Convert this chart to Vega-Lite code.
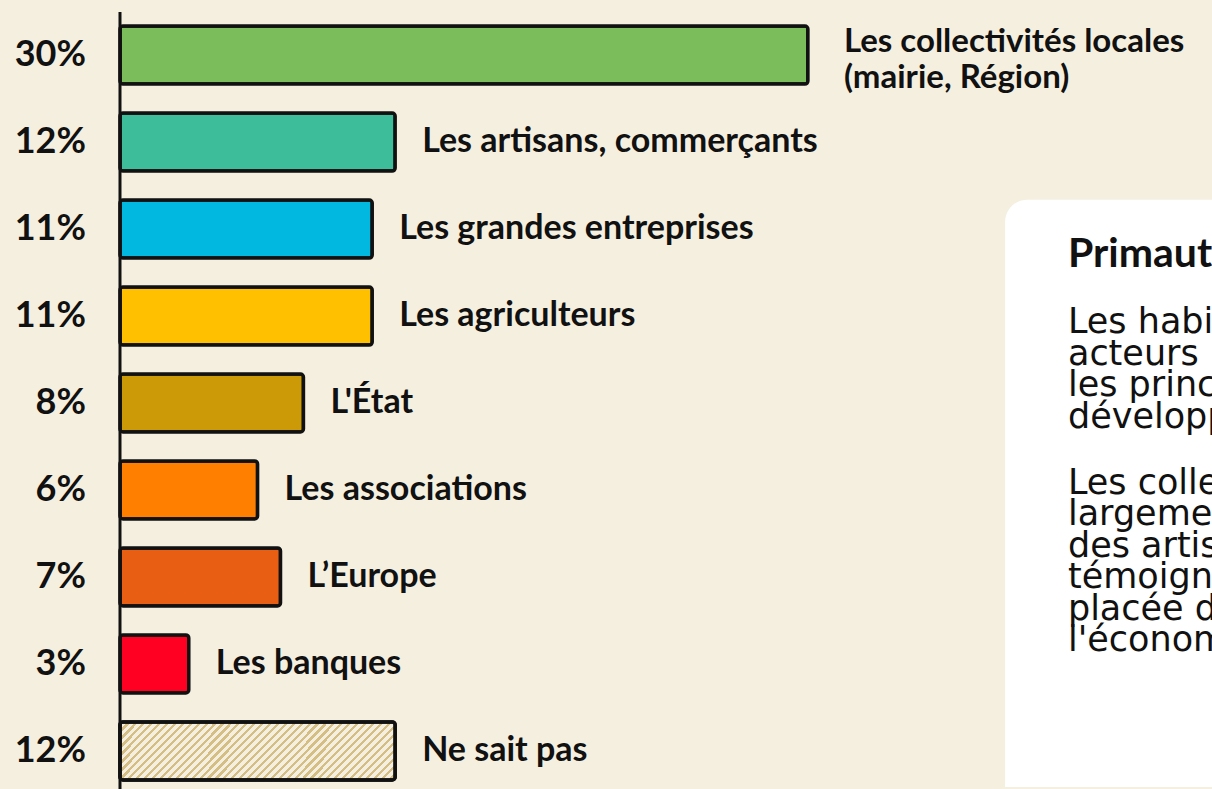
{
"$schema": "https://vega.github.io/schema/vega-lite/v6.json",
"width": 1212, "height": 789,
"autosize": {"type": "fit", "contains": "padding"},
"padding": 0,
"background": "#F5EFE0",
"config": {"view": {"stroke": null}},
"data": {"values": [
 {"cat": "Les collectivités locales\n(mairie, Région)", "value": 0.30},
 {"cat": "Les artisans, commerçants", "value": 0.12},
 {"cat": "Les grandes entreprises", "value": 0.11},
 {"cat": "Les agriculteurs", "value": 0.11},
 {"cat": "L'État", "value": 0.08},
 {"cat": "Les associations", "value": 0.06},
 {"cat": "L’Europe", "value": 0.07},
 {"cat": "Les banques", "value": 0.03},
 {"cat": "Ne sait pas", "value": 0.12}
]},
"layer": [
 {
  "data": {"values": [{}]},
  "mark": {"type": "rect", "fill": "#FFFFFF", "cornerRadius": 22, "clip": true, "height": {"band": 16}},
  "encoding": {
   "x": {"datum": 0.386, "type": "quantitative", "scale": {"domain": [-0.05233, 0.47623], "nice": false, "zero": false}, "axis": null},
   "x2": {"datum": 0.6},
   "y": {"datum": "Les banques", "type": "nominal", "axis": null, "scale": {"domain": ["Les collectivités locales\n(mairie, Région)", "Les artisans, commerçants", "Les grandes entreprises", "Les agriculteurs", "L'État", "Les associations", "L’Europe", "Les banques", "Ne sait pas"], "range": [11.5, 794.5], "paddingInner": 0.333, "paddingOuter": 0.1667}}
  }
 },
 {
  "mark": {"type": "bar", "stroke": "#111111", "strokeWidth": 3.5, "cornerRadius": 3},
  "encoding": {
   "x": {"field": "value", "type": "quantitative", "scale": {"domain": [-0.05233, 0.47623], "nice": false, "zero": false}, "axis": null},
   "y": {"field": "cat", "type": "nominal", "axis": null, "sort": null, "scale": {"domain": ["Les collectivités locales\n(mairie, Région)", "Les artisans, commerçants", "Les grandes entreprises", "Les agriculteurs", "L'État", "Les associations", "L’Europe", "Les banques", "Ne sait pas"], "range": [11.5, 794.5], "paddingInner": 0.333, "paddingOuter": 0.1667}},
   "fill": {"field": "cat", "type": "nominal", "legend": null, "scale": {"domain": ["Les collectivités locales\n(mairie, Région)", "Les artisans, commerçants", "Les grandes entreprises", "Les agriculteurs", "L'État", "Les associations", "L’Europe", "Les banques", "Ne sait pas"], "range": ["#7BBD5A", "#3DBD9A", "#00B8E0", "#FFC000", "#CC9A06", "#FF7F00", "#E85E12", "#FF0022", "#F5EFE0"]}}
  }
 },
 {
  "transform": [{"filter": "datum.cat === 'Ne sait pas'"}],
  "mark": {"type": "bar", "stroke": "#111111", "strokeWidth": 3.5, "cornerRadius": 3,
   "fill": {"gradient": "linear", "x1": 0, "y1": 0, "x2": 1.158, "y2": 0.242, "stops": [
    {"offset": 0, "color": "#D4BE84"}, {"offset": 0.0095, "color": "#D4BE84"}, {"offset": 0.0095, "color": "#F5EFE0"}, {"offset": 0.0238, "color": "#F5EFE0"},
    {"offset": 0.0238, "color": "#D4BE84"}, {"offset": 0.0333, "color": "#D4BE84"}, {"offset": 0.0333, "color": "#F5EFE0"}, {"offset": 0.0476, "color": "#F5EFE0"},
    {"offset": 0.0476, "color": "#D4BE84"}, {"offset": 0.0571, "color": "#D4BE84"}, {"offset": 0.0571, "color": "#F5EFE0"}, {"offset": 0.0714, "color": "#F5EFE0"},
    {"offset": 0.0714, "color": "#D4BE84"}, {"offset": 0.0809, "color": "#D4BE84"}, {"offset": 0.0809, "color": "#F5EFE0"}, {"offset": 0.0952, "color": "#F5EFE0"},
    {"offset": 0.0952, "color": "#D4BE84"}, {"offset": 0.1047, "color": "#D4BE84"}, {"offset": 0.1047, "color": "#F5EFE0"}, {"offset": 0.1190, "color": "#F5EFE0"},
    {"offset": 0.1190, "color": "#D4BE84"}, {"offset": 0.1285, "color": "#D4BE84"}, {"offset": 0.1285, "color": "#F5EFE0"}, {"offset": 0.1429, "color": "#F5EFE0"},
    {"offset": 0.1429, "color": "#D4BE84"}, {"offset": 0.1524, "color": "#D4BE84"}, {"offset": 0.1524, "color": "#F5EFE0"}, {"offset": 0.1667, "color": "#F5EFE0"},
    {"offset": 0.1667, "color": "#D4BE84"}, {"offset": 0.1762, "color": "#D4BE84"}, {"offset": 0.1762, "color": "#F5EFE0"}, {"offset": 0.1905, "color": "#F5EFE0"},
    {"offset": 0.1905, "color": "#D4BE84"}, {"offset": 0.2000, "color": "#D4BE84"}, {"offset": 0.2000, "color": "#F5EFE0"}, {"offset": 0.2143, "color": "#F5EFE0"},
    {"offset": 0.2143, "color": "#D4BE84"}, {"offset": 0.2238, "color": "#D4BE84"}, {"offset": 0.2238, "color": "#F5EFE0"}, {"offset": 0.2381, "color": "#F5EFE0"},
    {"offset": 0.2381, "color": "#D4BE84"}, {"offset": 0.2476, "color": "#D4BE84"}, {"offset": 0.2476, "color": "#F5EFE0"}, {"offset": 0.2619, "color": "#F5EFE0"},
    {"offset": 0.2619, "color": "#D4BE84"}, {"offset": 0.2714, "color": "#D4BE84"}, {"offset": 0.2714, "color": "#F5EFE0"}, {"offset": 0.2857, "color": "#F5EFE0"},
    {"offset": 0.2857, "color": "#D4BE84"}, {"offset": 0.2952, "color": "#D4BE84"}, {"offset": 0.2952, "color": "#F5EFE0"}, {"offset": 0.3095, "color": "#F5EFE0"},
    {"offset": 0.3095, "color": "#D4BE84"}, {"offset": 0.3190, "color": "#D4BE84"}, {"offset": 0.3190, "color": "#F5EFE0"}, {"offset": 0.3333, "color": "#F5EFE0"},
    {"offset": 0.3333, "color": "#D4BE84"}, {"offset": 0.3428, "color": "#D4BE84"}, {"offset": 0.3428, "color": "#F5EFE0"}, {"offset": 0.3571, "color": "#F5EFE0"},
    {"offset": 0.3571, "color": "#D4BE84"}, {"offset": 0.3666, "color": "#D4BE84"}, {"offset": 0.3666, "color": "#F5EFE0"}, {"offset": 0.3810, "color": "#F5EFE0"},
    {"offset": 0.3810, "color": "#D4BE84"}, {"offset": 0.3905, "color": "#D4BE84"}, {"offset": 0.3905, "color": "#F5EFE0"}, {"offset": 0.4048, "color": "#F5EFE0"},
    {"offset": 0.4048, "color": "#D4BE84"}, {"offset": 0.4143, "color": "#D4BE84"}, {"offset": 0.4143, "color": "#F5EFE0"}, {"offset": 0.4286, "color": "#F5EFE0"},
    {"offset": 0.4286, "color": "#D4BE84"}, {"offset": 0.4381, "color": "#D4BE84"}, {"offset": 0.4381, "color": "#F5EFE0"}, {"offset": 0.4524, "color": "#F5EFE0"},
    {"offset": 0.4524, "color": "#D4BE84"}, {"offset": 0.4619, "color": "#D4BE84"}, {"offset": 0.4619, "color": "#F5EFE0"}, {"offset": 0.4762, "color": "#F5EFE0"},
    {"offset": 0.4762, "color": "#D4BE84"}, {"offset": 0.4857, "color": "#D4BE84"}, {"offset": 0.4857, "color": "#F5EFE0"}, {"offset": 0.5000, "color": "#F5EFE0"},
    {"offset": 0.5000, "color": "#D4BE84"}, {"offset": 0.5095, "color": "#D4BE84"}, {"offset": 0.5095, "color": "#F5EFE0"}, {"offset": 0.5238, "color": "#F5EFE0"},
    {"offset": 0.5238, "color": "#D4BE84"}, {"offset": 0.5333, "color": "#D4BE84"}, {"offset": 0.5333, "color": "#F5EFE0"}, {"offset": 0.5476, "color": "#F5EFE0"},
    {"offset": 0.5476, "color": "#D4BE84"}, {"offset": 0.5571, "color": "#D4BE84"}, {"offset": 0.5571, "color": "#F5EFE0"}, {"offset": 0.5714, "color": "#F5EFE0"},
    {"offset": 0.5714, "color": "#D4BE84"}, {"offset": 0.5809, "color": "#D4BE84"}, {"offset": 0.5809, "color": "#F5EFE0"}, {"offset": 0.5952, "color": "#F5EFE0"},
    {"offset": 0.5952, "color": "#D4BE84"}, {"offset": 0.6047, "color": "#D4BE84"}, {"offset": 0.6047, "color": "#F5EFE0"}, {"offset": 0.6190, "color": "#F5EFE0"},
    {"offset": 0.6190, "color": "#D4BE84"}, {"offset": 0.6285, "color": "#D4BE84"}, {"offset": 0.6285, "color": "#F5EFE0"}, {"offset": 0.6429, "color": "#F5EFE0"},
    {"offset": 0.6429, "color": "#D4BE84"}, {"offset": 0.6524, "color": "#D4BE84"}, {"offset": 0.6524, "color": "#F5EFE0"}, {"offset": 0.6667, "color": "#F5EFE0"},
    {"offset": 0.6667, "color": "#D4BE84"}, {"offset": 0.6762, "color": "#D4BE84"}, {"offset": 0.6762, "color": "#F5EFE0"}, {"offset": 0.6905, "color": "#F5EFE0"},
    {"offset": 0.6905, "color": "#D4BE84"}, {"offset": 0.7000, "color": "#D4BE84"}, {"offset": 0.7000, "color": "#F5EFE0"}, {"offset": 0.7143, "color": "#F5EFE0"},
    {"offset": 0.7143, "color": "#D4BE84"}, {"offset": 0.7238, "color": "#D4BE84"}, {"offset": 0.7238, "color": "#F5EFE0"}, {"offset": 0.7381, "color": "#F5EFE0"},
    {"offset": 0.7381, "color": "#D4BE84"}, {"offset": 0.7476, "color": "#D4BE84"}, {"offset": 0.7476, "color": "#F5EFE0"}, {"offset": 0.7619, "color": "#F5EFE0"},
    {"offset": 0.7619, "color": "#D4BE84"}, {"offset": 0.7714, "color": "#D4BE84"}, {"offset": 0.7714, "color": "#F5EFE0"}, {"offset": 0.7857, "color": "#F5EFE0"},
    {"offset": 0.7857, "color": "#D4BE84"}, {"offset": 0.7952, "color": "#D4BE84"}, {"offset": 0.7952, "color": "#F5EFE0"}, {"offset": 0.8095, "color": "#F5EFE0"},
    {"offset": 0.8095, "color": "#D4BE84"}, {"offset": 0.8190, "color": "#D4BE84"}, {"offset": 0.8190, "color": "#F5EFE0"}, {"offset": 0.8333, "color": "#F5EFE0"},
    {"offset": 0.8333, "color": "#D4BE84"}, {"offset": 0.8428, "color": "#D4BE84"}, {"offset": 0.8428, "color": "#F5EFE0"}, {"offset": 0.8571, "color": "#F5EFE0"},
    {"offset": 0.8571, "color": "#D4BE84"}, {"offset": 0.8666, "color": "#D4BE84"}, {"offset": 0.8666, "color": "#F5EFE0"}, {"offset": 0.8810, "color": "#F5EFE0"},
    {"offset": 0.8810, "color": "#D4BE84"}, {"offset": 0.8905, "color": "#D4BE84"}, {"offset": 0.8905, "color": "#F5EFE0"}, {"offset": 0.9048, "color": "#F5EFE0"},
    {"offset": 0.9048, "color": "#D4BE84"}, {"offset": 0.9143, "color": "#D4BE84"}, {"offset": 0.9143, "color": "#F5EFE0"}, {"offset": 0.9286, "color": "#F5EFE0"},
    {"offset": 0.9286, "color": "#D4BE84"}, {"offset": 0.9381, "color": "#D4BE84"}, {"offset": 0.9381, "color": "#F5EFE0"}, {"offset": 0.9524, "color": "#F5EFE0"},
    {"offset": 0.9524, "color": "#D4BE84"}, {"offset": 0.9619, "color": "#D4BE84"}, {"offset": 0.9619, "color": "#F5EFE0"}, {"offset": 0.9762, "color": "#F5EFE0"},
    {"offset": 0.9762, "color": "#D4BE84"}, {"offset": 0.9857, "color": "#D4BE84"}, {"offset": 0.9857, "color": "#F5EFE0"}, {"offset": 1, "color": "#F5EFE0"}
   ]}},
  "encoding": {
   "x": {"field": "value", "type": "quantitative", "scale": {"domain": [-0.05233, 0.47623], "nice": false, "zero": false}, "axis": null},
   "y": {"field": "cat", "type": "nominal", "axis": null, "sort": null, "scale": {"domain": ["Les collectivités locales\n(mairie, Région)", "Les artisans, commerçants", "Les grandes entreprises", "Les agriculteurs", "L'État", "Les associations", "L’Europe", "Les banques", "Ne sait pas"], "range": [11.5, 794.5], "paddingInner": 0.333, "paddingOuter": 0.1667}}
  }
 },
 {
  "data": {"values": [{}]},
  "mark": {"type": "rule", "strokeWidth": 3, "color": "#111111", "yOffset": -43, "y2Offset": 38},
  "encoding": {
   "x": {"datum": 0, "type": "quantitative", "scale": {"domain": [-0.05233, 0.47623], "nice": false, "zero": false}, "axis": null},
   "y": {"datum": "Les collectivités locales\n(mairie, Région)", "type": "nominal", "axis": null, "scale": {"domain": ["Les collectivités locales\n(mairie, Région)", "Les artisans, commerçants", "Les grandes entreprises", "Les agriculteurs", "L'État", "Les associations", "L’Europe", "Les banques", "Ne sait pas"], "range": [11.5, 794.5], "paddingInner": 0.333, "paddingOuter": 0.1667}},
   "y2": {"datum": "Ne sait pas"}
  }
 },
 {
  "transform": [{"filter": "datum.value < 0.2"}],
  "mark": {"type": "text", "font": "Lato", "fontWeight": "bold", "fontSize": 34, "align": "left", "baseline": "middle", "dx": 27, "color": "#111111"},
  "encoding": {
   "x": {"field": "value", "type": "quantitative", "scale": {"domain": [-0.05233, 0.47623], "nice": false, "zero": false}, "axis": null},
   "y": {"field": "cat", "type": "nominal", "axis": null, "sort": null, "scale": {"domain": ["Les collectivités locales\n(mairie, Région)", "Les artisans, commerçants", "Les grandes entreprises", "Les agriculteurs", "L'État", "Les associations", "L’Europe", "Les banques", "Ne sait pas"], "range": [11.5, 794.5], "paddingInner": 0.333, "paddingOuter": 0.1667}},
   "text": {"field": "cat", "type": "nominal"}
  }
 },
 {
  "transform": [{"filter": "datum.value >= 0.2"}],
  "mark": {"type": "text", "font": "Lato", "fontWeight": "bold", "fontSize": 33, "align": "left", "baseline": "middle", "dx": 36, "yOffset": -13, "lineBreak": "\n", "lineHeight": 36, "color": "#111111"},
  "encoding": {
   "x": {"field": "value", "type": "quantitative", "scale": {"domain": [-0.05233, 0.47623], "nice": false, "zero": false}, "axis": null},
   "y": {"field": "cat", "type": "nominal", "axis": null, "sort": null, "scale": {"domain": ["Les collectivités locales\n(mairie, Région)", "Les artisans, commerçants", "Les grandes entreprises", "Les agriculteurs", "L'État", "Les associations", "L’Europe", "Les banques", "Ne sait pas"], "range": [11.5, 794.5], "paddingInner": 0.333, "paddingOuter": 0.1667}},
   "text": {"field": "cat", "type": "nominal"}
  }
 },
 {
  "mark": {"type": "text", "font": "Lato", "fontWeight": "bold", "fontSize": 36, "align": "right", "baseline": "middle", "color": "#111111"},
  "encoding": {
   "x": {"datum": -0.01483, "type": "quantitative", "scale": {"domain": [-0.05233, 0.47623], "nice": false, "zero": false}, "axis": null},
   "y": {"field": "cat", "type": "nominal", "axis": null, "sort": null, "scale": {"domain": ["Les collectivités locales\n(mairie, Région)", "Les artisans, commerçants", "Les grandes entreprises", "Les agriculteurs", "L'État", "Les associations", "L’Europe", "Les banques", "Ne sait pas"], "range": [11.5, 794.5], "paddingInner": 0.333, "paddingOuter": 0.1667}},
   "text": {"field": "value", "type": "quantitative", "format": ".0%"}
  }
 },
 {
  "data": {"values": [{}]},
  "mark": {"type": "text", "text": "Primauté des collectivités locales", "font": "Lato", "fontWeight": "bold", "fontSize": 41, "align": "left", "baseline": "middle", "yOffset": 26, "clip": true, "color": "#111111"},
  "encoding": {
   "x": {"datum": 0.4134, "type": "quantitative", "scale": {"domain": [-0.05233, 0.47623], "nice": false, "zero": false}, "axis": null},
   "y": {"datum": "Les grandes entreprises", "type": "nominal", "axis": null, "scale": {"domain": ["Les collectivités locales\n(mairie, Région)", "Les artisans, commerçants", "Les grandes entreprises", "Les agriculteurs", "L'État", "Les associations", "L’Europe", "Les banques", "Ne sait pas"], "range": [11.5, 794.5], "paddingInner": 0.333, "paddingOuter": 0.1667}}
  }
 },
 {
  "data": {"values": [{}]},
  "mark": {"type": "text", "text": ["Les habitants identifient les", "acteurs      publics locaux comme", "les principaux moteurs du", "développement de leur territoire."], "font": "DejaVu Sans", "fontSize": 35, "lineHeight": 31.5, "align": "left", "baseline": "middle", "yOffset": 6, "clip": true, "color": "#111111"},
  "encoding": {
   "x": {"datum": 0.4134, "type": "quantitative", "scale": {"domain": [-0.05233, 0.47623], "nice": false, "zero": false}, "axis": null},
   "y": {"datum": "Les agriculteurs", "type": "nominal", "axis": null, "scale": {"domain": ["Les collectivités locales\n(mairie, Région)", "Les artisans, commerçants", "Les grandes entreprises", "Les agriculteurs", "L'État", "Les associations", "L’Europe", "Les banques", "Ne sait pas"], "range": [11.5, 794.5], "paddingInner": 0.333, "paddingOuter": 0.1667}}
  }
 },
 {
  "data": {"values": [{}]},
  "mark": {"type": "text", "text": ["Les collectivités locales sont", "largement citées, devant celles", "des artisans et commerçants, ce qui", "témoigne de l'importance", "placée dans", "l'économie locale."], "font": "DejaVu Sans", "fontSize": 35, "lineHeight": 31.5, "align": "left", "baseline": "middle", "yOffset": -7, "clip": true, "color": "#111111"},
  "encoding": {
   "x": {"datum": 0.4134, "type": "quantitative", "scale": {"domain": [-0.05233, 0.47623], "nice": false, "zero": false}, "axis": null},
   "y": {"datum": "Les associations", "type": "nominal", "axis": null, "scale": {"domain": ["Les collectivités locales\n(mairie, Région)", "Les artisans, commerçants", "Les grandes entreprises", "Les agriculteurs", "L'État", "Les associations", "L’Europe", "Les banques", "Ne sait pas"], "range": [11.5, 794.5], "paddingInner": 0.333, "paddingOuter": 0.1667}}
  }
 }
]
}
